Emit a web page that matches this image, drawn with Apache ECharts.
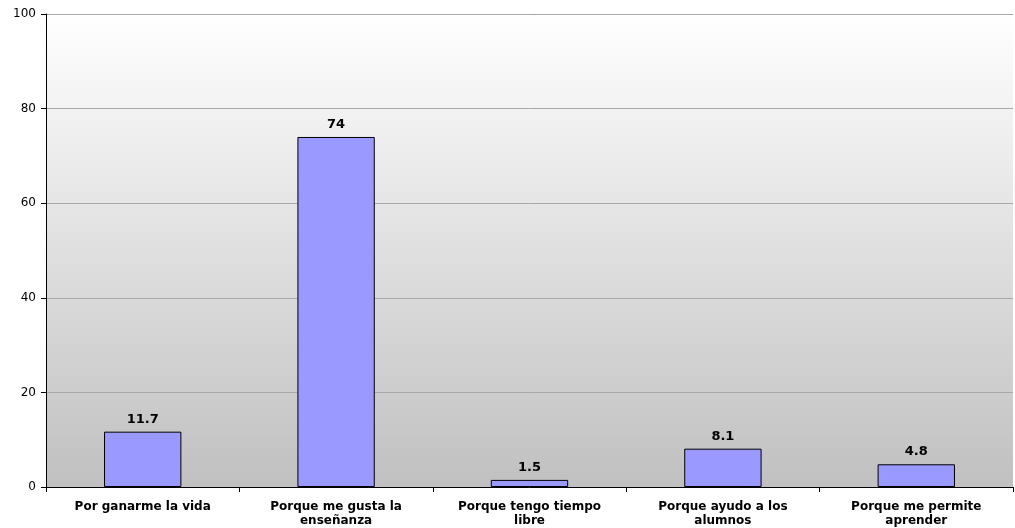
<!DOCTYPE html>
<html><head><meta charset="utf-8">
<script src="https://cdn.jsdelivr.net/npm/echarts@6/dist/echarts.min.js"></script>
<style>html,body{margin:0;padding:0;background:#fff}#c{width:1015px;height:528px}</style>
</head><body><div id="c"></div>
<script>
const categories = ["Por ganarme la vida", "Porque me gusta la\nenseñanza", "Porque tengo tiempo\nlibre", "Porque ayudo a los\nalumnos", "Porque me permite\naprender"];
const values = [11.7, 74, 1.5, 8.1, 4.8];
const yTicks = [0, 20, 40, 60, 80, 100];

const chart = echarts.init(document.getElementById('c'));
chart.setOption({
  animation: false,
  grid: {left: 46, right: 2, top: 14, bottom: 40, show: true, borderWidth: 0,
    backgroundColor: {type: 'linear', x: 0, y: 0, x2: 0, y2: 1,
      colorStops: [{offset: 0, color: '#ffffff'}, {offset: 1, color: '#c0c0c0'}]}},
  xAxis: {type: 'category', data: categories,
    axisLine: {lineStyle: {color: '#000', width: 1}},
    axisTick: {show: true, alignWithLabel: false, length: 5, lineStyle: {color: '#000'}},
    axisLabel: {interval: 0, color: '#000', fontFamily: 'DejaVu Sans', fontWeight: 'bold', fontSize: 12, lineHeight: 14, margin: 13}
  },
  yAxis: {type: 'value', min: 0, max: 100, interval: 20,
    axisLine: {show: true, lineStyle: {color: '#000', width: 1}},
    axisTick: {show: true, length: 5, lineStyle: {color: '#000'}},
    splitLine: {lineStyle: {color: '#a8a8a8', width: 1}},
    axisLabel: {color: '#000', fontFamily: 'DejaVu Sans', fontSize: 12, margin: 10,
      formatter: v => yTicks.includes(v) ? String(v) : ''}
  },
  series: [{type: 'bar', data: values, barWidth: '40%',
    itemStyle: {color: '#9999ff', borderColor: '#000', borderWidth: 1},
    label: {show: true, position: 'top', distance: 6, color: '#000', fontFamily: 'DejaVu Sans', fontWeight: 'bold', fontSize: 13}
  }]
});
</script></body></html>
